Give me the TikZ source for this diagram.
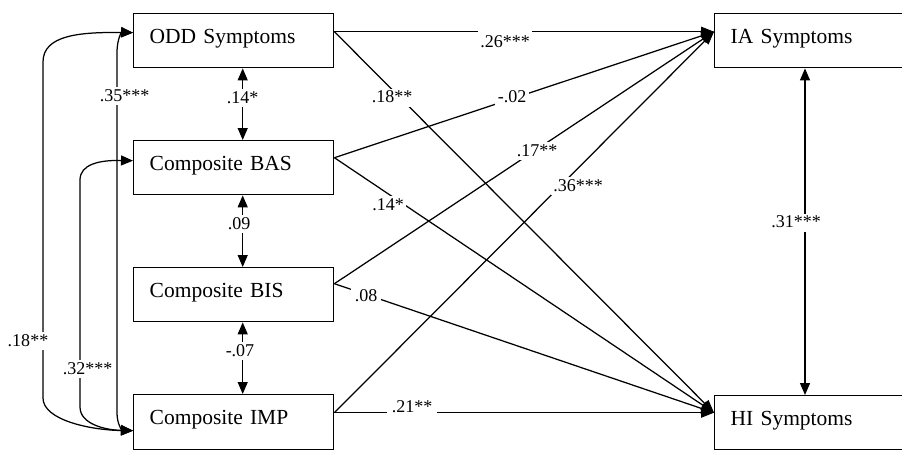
\documentclass[tikz,border=0pt]{standalone}
\usepackage{fontspec}
\setmainfont{Liberation Serif}
\usetikzlibrary{arrows.meta,calc}
\begin{document}
\begin{tikzpicture}[x=1pt,y=-1pt,
  box/.style={draw,line width=1.4pt,anchor=north west,minimum width=200pt,
    text width=168pt,inner xsep=16pt,inner ysep=0pt,align=left,
    text height=30pt,text depth=24pt,font=\fontsize{21.5}{24}\selectfont},
  lbl/.style={fill=white,inner xsep=2.5pt,inner ysep=1pt,
    text height=13pt,text depth=3pt,font=\fontsize{18}{20}\selectfont},
  conn/.style={line width=1.25pt,-{Triangle[length=13pt,width=10pt]}},
  bi/.style={line width=1.25pt,{Triangle[length=12pt,width=10pt]}-{Triangle[length=12pt,width=10pt]}}]
\useasboundingbox (0,0) rectangle (902,450);

% boxes
\node[box] (odd) at (133,13) {ODD Symptoms};
\node[box] (bas) at (133,140) {Composite BAS};
\node[box] (bis) at (133,267) {Composite BIS};
\node[box,text depth=25pt] (imp) at (133,394) {Composite IMP};
\node[box,text width=175pt] (ia) at (714,13) {IA Symptoms};
\node[box,text width=175pt] (hi) at (714,395) {HI Symptoms};

% connector end points
\coordinate (oddR) at ([yshift=9pt]odd.east);
\coordinate (basR) at ([yshift=10pt]bas.east);
\coordinate (bisR) at ([yshift=11pt]bis.east);
\coordinate (impR) at ([yshift=9.5pt]imp.east);
\coordinate (iaL) at ([yshift=9pt]ia.west);
\coordinate (hiL) at ([yshift=10pt]hi.west);
\coordinate (oddL) at ([yshift=8pt]odd.west);
\coordinate (basL) at ([yshift=7pt]bas.west);
\coordinate (impL) at ([yshift=-8.5pt]imp.west);
\coordinate (rx) at (805,0);

% paths to outcomes
\draw[conn] (oddR) -- (iaL);
\draw[conn] (oddR) -- (hiL);
\draw[conn] (basR) -- (iaL);
\draw[conn] (basR) -- (hiL);
\draw[conn] (bisR) -- (iaL);
\draw[conn] (bisR) -- (hiL);
\draw[conn] (impR) -- (iaL);
\draw[conn] (impR) -- (hiL);

% correlations between adjacent predictors
\draw[bi] ([xshift=9pt]odd.south) -- ([xshift=9pt]bas.north);
\draw[bi] ([xshift=9pt]bas.south) -- ([xshift=9pt]bis.north);
\draw[bi] ([xshift=9pt]bis.south) -- ([xshift=9pt]imp.north);
\draw[bi] (ia.south -| rx) -- (hi.north -| rx);

% curved correlations
\draw[bi] (oddL) .. controls (80,32) and (43,35) .. (43,62) -- (43,398)
  .. controls (43,420) and (90,430) .. (impL);
\draw[bi] (basL) .. controls (100,160) and (80,164) .. (80,180) -- (80,407)
  .. controls (80,424) and (105,430) .. (impL);
\draw[bi] (oddL) .. controls (122,32) and (117,38) .. (117,53) -- (117,413)
  .. controls (117,424) and (122,430) .. (impL);

% labels
\node[lbl,minimum height=28pt] (l1) at (505,42.5) {.26***};
\node[lbl] (l2) at (392,97.5) {.18**};
\node[lbl] (l3) at (512,97.5) {-.02};
\node[lbl] (l4) at (537,151) {.17**};
\node[lbl] (l5) at (388,205) {.14*};
\node[lbl] (l6) at (578,186) {.36***};
\node[lbl,inner xsep=4pt] (l7) at (366,296.5) {.08};
\node[lbl,inner xsep=5pt] (l8) at (412,407) {.21**};
\node[lbl] (l9) at (796,222.5) {.31***};
\node[lbl] (l10) at (124.5,96) {.35***};
\node[lbl] (l11) at (242.5,98) {.14*};
\node[lbl] (l12) at (239,224) {.09};
\node[lbl] (l13) at (240,351) {-.07};
\node[lbl] (l14) at (28,341) {.18**};
\node[lbl] (l15) at (87.5,369) {.32***};
\end{tikzpicture}
\end{document}
